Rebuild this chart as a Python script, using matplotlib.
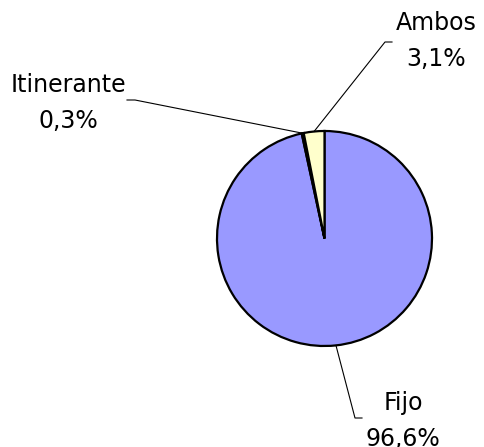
import matplotlib
matplotlib.use("Agg")
import matplotlib.pyplot as plt
import numpy as np

# data
labels = ["Fijo", "Itinerante", "Ambos"]
values = [96.6, 0.3, 3.1]
colors = ["#9999FF", "#993366", "#FFFFCC"]
pct_text = ["96,6%", "0,3%", "3,1%"]

W, H = 485, 447
fig = plt.figure(figsize=(W / 100, H / 100), dpi=100)
ax = fig.add_axes([0, 0, 1, 1])

cx, cy, r = 324.5, H - 238.5, 107.5
wedges, _ = ax.pie(values, colors=colors, startangle=90, counterclock=False,
                   center=(cx, cy), radius=r, frame=True,
                   wedgeprops=dict(edgecolor="black", linewidth=1.6))
ax.set_xlim(0, W)
ax.set_ylim(0, H)
ax.set_aspect("equal")
ax.axis("off")

# label layout: text centre, elbow point, end of short horizontal
label_pos = {
    "Fijo": ((403, H - 421), (355, H - 418), (362, H - 418)),
    "Itinerante": ((68, H - 103), (135, H - 100), (127, H - 100)),
    "Ambos": ((436, H - 41), (385, H - 42), (392, H - 42)),
}

for w, lab, pct in zip(wedges, labels, pct_text):
    mid = np.deg2rad((w.theta1 + w.theta2) / 2)
    ex, ey = cx + r * np.cos(mid), cy + r * np.sin(mid)
    (tx, ty), (bx, by), (hx, hy) = label_pos[lab]
    ax.plot([ex, bx, hx], [ey, by, hy], color="black", lw=0.8)
    ax.text(tx, ty, lab + "\n" + pct, ha="center", va="center",
            fontsize=17, linespacing=1.6, family="DejaVu Sans")

fig.savefig("out.png", dpi=100)
